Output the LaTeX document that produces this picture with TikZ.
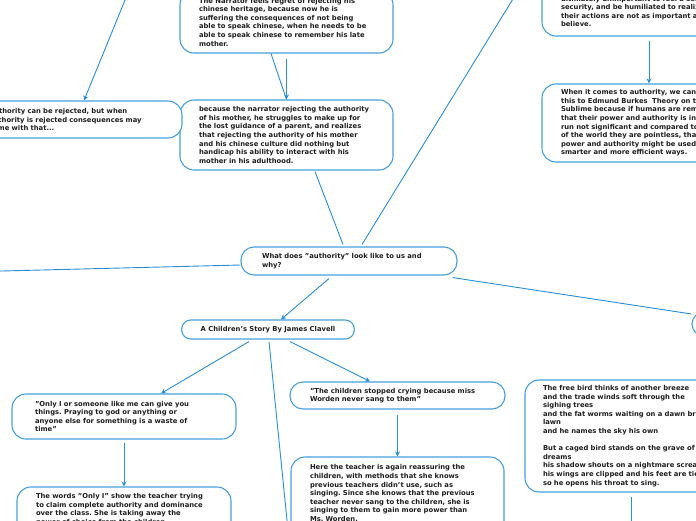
\documentclass[tikz,border=0pt]{standalone}
\usepackage{fontspec}
\setmainfont{DejaVu Sans}
\usetikzlibrary{arrows.meta}
\definecolor{mapblue}{RGB}{70,160,224}
\definecolor{linkblue}{RGB}{40,142,216}
\newcommand\mapfont{\fontsize{6.8}{8.6}\selectfont\bfseries\frenchspacing}
\begin{document}
\begin{tikzpicture}[x=1pt, y=-1pt,
  topic/.style={draw=mapblue, line width=1.1pt, fill=white, rounded corners=14pt, align=left, inner xsep=19pt, inner ysep=0pt, font=\mapfont, text=black!88},
  link/.style={draw=linkblue, line width=0.9pt},
  arrowlink/.style={link, -{Stealth[length=5pt,width=5pt]}}]
\useasboundingbox (0,0) rectangle (696,520);
\fill[white] (0,0) rectangle (696,520);
\node[topic, text width=175pt, minimum height=62pt] (narrator) at (286.5,22) {The Narrator feels regret of rejecting his\\chinese heritage, because now he is\\suffering the consequences of not being\\able to speak chinese, when he needs to be\\able to speak chinese to remember his late\\mother.};
\node[topic, text width=175pt, minimum height=70pt] (struggle) at (286.5,135) {because the narrator rejecting the authority\\of his mother, he struggles to make up for\\the lost guidance of a parent, and realizes\\that rejecting the authority of his mother\\and his chinese culture did nothing but\\handicap his ability to interact with his\\mother in his adulthood.};
\node[topic, text width=174pt, minimum height=37pt] (rejected) at (76,119.5) {Authority can be rejected, but when\\authority is rejected consequences may\\come with that...};
\node[topic, text width=222pt, minimum height=61pt] (meaning) at (672,5.5) {\mbox{}\\\mbox{}\\ultimately unimportant to feel a sense of\\security, and be humiliated to realize that\\their actions are not as important as they\\believe.};
\node[topic, text width=222pt, minimum height=78pt] (burke) at (672,123) {When it comes to authority, we can relate\\this to Edmund Burkes~ Theory on the\\Sublime because if humans are reminded\\that their power and authority is in the long\\run not significant and compared to the rest\\of the world they are pointless, that\\power and authority might be used in\\smarter and more efficient ways.};
\node[topic, inner xsep=21pt, text width=174pt, minimum height=28pt, rounded corners=13pt] (question) at (349,261) {What does "authority" look like to us and\\why?};
\node[topic, align=center, minimum width=170pt, minimum height=19pt, rounded corners=9pt] (story) at (268,329.5) {A Children's Story By James Clavell};
\node[topic, minimum width=108pt, minimum height=24pt, rounded corners=12pt] (edge) at (746,324) {};
\node[topic, inner xsep=23pt, text width=178pt, minimum height=45pt] (onlyi) at (124,416.5) {"Only I or someone like me can give you\\things. Praying to god or anything or\\anyone else for something is a waste of\\time"};
\node[topic, text width=176pt, minimum height=61pt] (words) at (124,517.5) {The words "Only I" show the teacher trying\\to claim complete authority and dominance\\over the class. She is taking away the\\power of choice from the children.\\\mbox{}\\\mbox{}};
\node[topic, inner xsep=20pt, text width=175pt, minimum height=27pt, rounded corners=13pt] (sang) at (397.5,395.5) {"The children stopped crying because miss\\Worden never sang to them"};
\node[topic, text width=175pt, minimum height=81pt] (teacher) at (397.5,497.5) {Here the teacher is again reassuring the\\children, with methods that she knows\\previous teachers didn't use, such as\\singing. Since she knows that the previous\\teacher never sang to the children, she is\\singing to them to gain more power than\\Ms. Worden.\\\mbox{}};
\node[topic, inner xsep=18pt, text width=224pt, minimum height=112pt] (poem) at (655,436) {The free bird thinks of another breeze\\and the trade winds soft through the\\sighing trees\\and the fat worms waiting on a dawn bright\\lawn\\and he names the sky his own\\\mbox{}\\But a caged bird stands on the grave of\\dreams\\his shadow shouts on a nightmare scream\\his wings are clipped and his feet are tied\\so he opens his throat to sing.};
\coordinate (upleft) at (127.5,-6);
\coordinate (upright) at (516,-6);
\coordinate (farleft) at (-10,271.3);
\coordinate (down) at (288,530);
\coordinate (poemdown) at (631,530);
\draw[link] ([xshift=-15.5pt]narrator.south) -- (struggle.north);
\draw[arrowlink] ([yshift=-5pt]narrator.south) -- (struggle.north);
\draw[arrowlink] (upleft) -- ([xshift=8pt]rejected.north);
\draw[arrowlink] ([xshift=-23pt,yshift=-4pt]meaning.south) -- ([xshift=-23pt]burke.north);
\draw[link] ([xshift=-6pt,yshift=2pt]question.north) -- ([xshift=28.5pt,yshift=-1pt]struggle.south);
\draw[link] ([xshift=13pt,yshift=2pt]question.north) -- (upright);
\draw[link] ([yshift=-4pt]question.west) -- (farleft);
\draw[link] ([xshift=-5pt,yshift=-2pt]question.south east) -- ([yshift=10pt]edge.west);
\draw[arrowlink] ([xshift=-20pt,yshift=-3pt]question.south) -- ([xshift=13pt]story.north);
\draw[arrowlink] ([xshift=-19pt,yshift=-2pt]story.south) -- ([xshift=37pt]onlyi.north);
\draw[arrowlink] ([xshift=22pt,yshift=-2pt]story.south) -- ([xshift=-27.5pt]sang.north);
\draw[link] ([xshift=1pt,yshift=-2pt]story.south) -- (down);
\draw[arrowlink] ([yshift=-3pt]onlyi.south) -- (words.north);
\draw[arrowlink] ([yshift=-5pt]sang.south) -- (teacher.north);
\draw[link] ([xshift=-24pt,yshift=-4pt]poem.south) -- (poemdown);
\end{tikzpicture}
\end{document}
